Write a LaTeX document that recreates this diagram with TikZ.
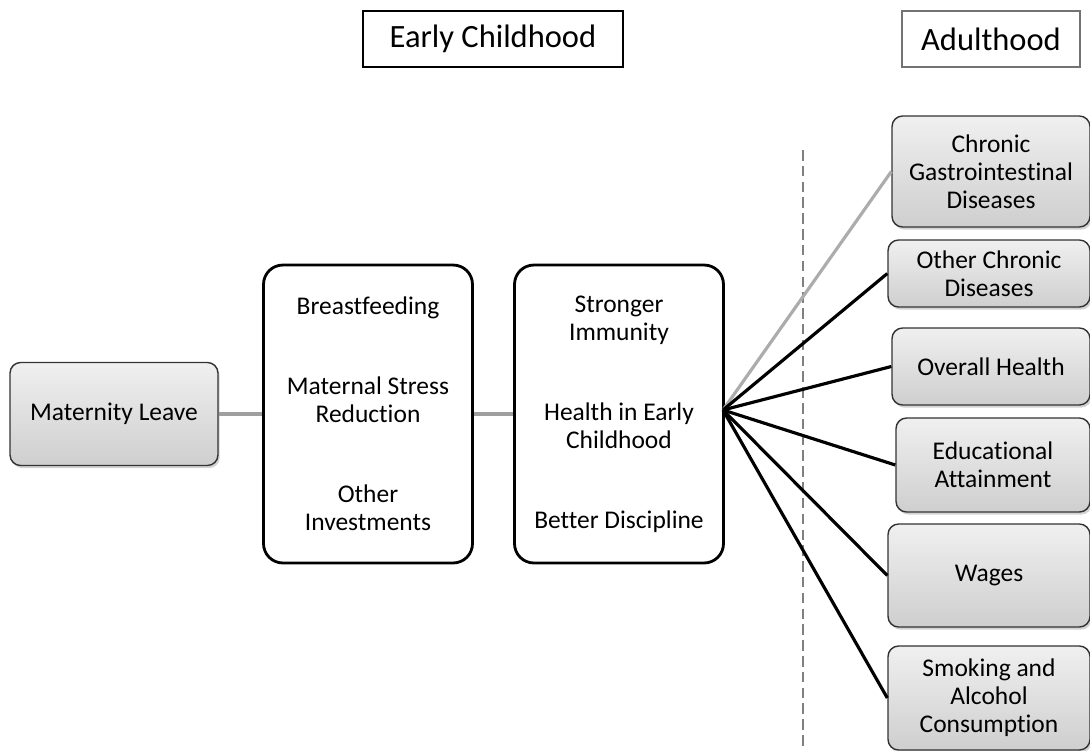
\documentclass[tikz,border=0pt]{standalone}
\usepackage{fontspec}
\setmainfont{Carlito}[Ligatures=CommonOff]
\usetikzlibrary{shadows}

\tikzset{
  gradbox/.style={draw=black!80, line width=0.8pt, rounded corners=6pt,
    top color=gray!12, bottom color=gray!38,
    drop shadow={shadow xshift=1pt, shadow yshift=-1.5pt, opacity=0.35},
    align=center, font=\fontsize{14.5}{16}\selectfont, inner sep=0pt},
  listbox/.style={draw=black, line width=1.6pt, rounded corners=11pt, fill=white,
    align=center, font=\fontsize{14.5}{16}\selectfont, inner sep=0pt,
    minimum width=4.18cm, minimum height=5.96cm},
  header/.style={draw, line width=1.3pt, fill=white, inner sep=0pt,
    minimum height=1.12cm, font=\fontsize{18.5}{20}\selectfont},
  link/.style={line width=1.8pt},
}

\begin{document}
\begin{tikzpicture}[x=0.02cm, y=-0.02cm]
        \useasboundingbox (0,0) rectangle (1090,751);

        % headers
        \node[header, minimum width=5.2cm] (early) at (493,39) {Early Childhood};
        \node[header, draw=black!55, minimum width=3.56cm] (adult) at (991,39) {Adulthood};

        % boundary between the two periods
        \coordinate (cuttop) at (803,150);
        \coordinate (cutbot) at (803,751);
        \draw[gray, line width=0.8pt, dash pattern=on 6pt off 3pt] (cuttop) -- (cutbot);

        % early childhood chain
        \node[gradbox, minimum width=4.16cm, minimum height=2.06cm] (leave) at (114,414) {Maternity Leave};
        \node[listbox] (invest) at (368,414)
          {Breastfeeding\\[1.04cm] Maternal Stress\\ Reduction\\[1.04cm] Other\\ Investments};
        \node[listbox] (health) at (619,414)
          {Stronger\\ Immunity\\[1.04cm] Health in Early\\ Childhood\\[1.04cm] Better Discipline};

        % adult outcomes
        \node[gradbox, minimum width=3.96cm, minimum height=2.22cm] (gastro) at (991,171.5)
          {Chronic\\ Gastrointestinal\\ Diseases};
        \node[gradbox, minimum width=4.04cm, minimum height=1.34cm] (chronic) at (989,273.5)
          {Other Chronic\\ Diseases};
        \node[gradbox, minimum width=3.96cm, minimum height=1.54cm] (overall) at (991,366.5)
          {Overall Health};
        \node[gradbox, minimum width=3.88cm, minimum height=1.88cm] (educ) at (993,465)
          {Educational\\ Attainment};
        \node[gradbox, minimum width=4.04cm, minimum height=2.06cm] (wages) at (989,575.5)
          {Wages};
        \node[gradbox, minimum width=4.04cm, minimum height=2.08cm] (smoke) at (989,698)
          {Smoking and\\ Alcohol\\ Consumption};

        % connectors
        \coordinate (fan) at (723,410);
        \draw[link, gray!75] (leave.east) -- (invest.west);
        \draw[link, gray!75] (invest.east) -- (health.west);
        \draw[link, gray!65] (fan) -- (gastro.west);
        \foreach \out in {chronic, overall, educ, wages, smoke}
          \draw[link] (fan) -- (\out.west);
    \end{tikzpicture}
\end{document}
